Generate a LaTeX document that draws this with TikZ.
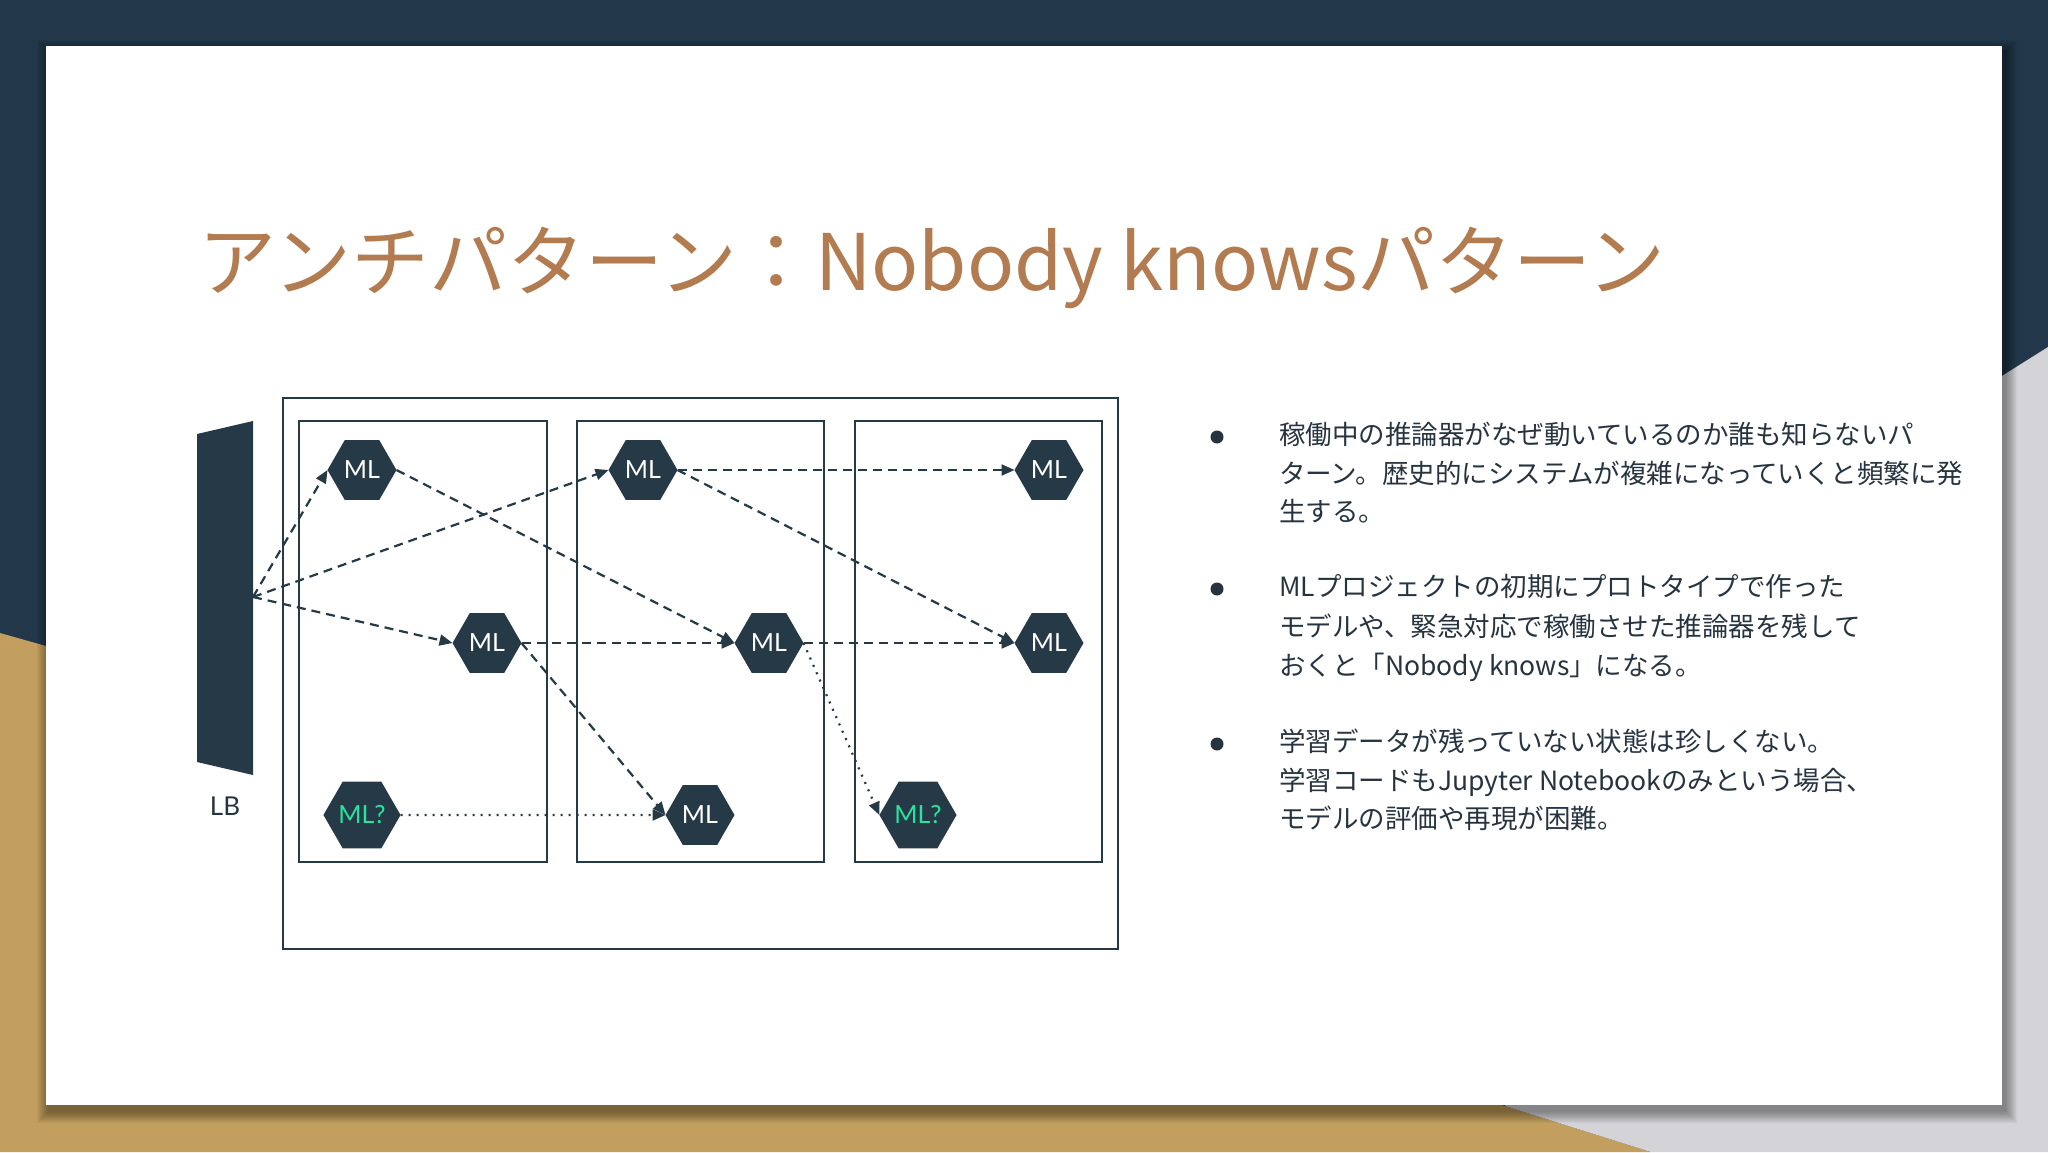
\documentclass[tikz,border=0pt]{standalone}
\usepackage{fontspec}
\setmainfont{Noto Sans CJK JP}
\newfontfamily\jpfont{Noto Sans CJK JP}
\newfontfamily\latfont{Lato}
\usetikzlibrary{shapes.geometric,arrows.meta}
\definecolor{bgnavy}{HTML}{22384A}
\definecolor{bggold}{HTML}{C29F5E}
\definecolor{bggray}{HTML}{D4D3D7}
\definecolor{titlec}{HTML}{B27B50}
\definecolor{hexc}{HTML}{253A46}
\definecolor{linec}{HTML}{263A45}
\definecolor{textc}{HTML}{27343F}
\definecolor{mlgreen}{HTML}{2BE39F}
\tikzset{
  hexa/.style={regular polygon, regular polygon sides=6, fill=hexc, minimum size=69pt,
    inner sep=0pt, outer sep=0pt, text=white, font=\latfont\fontsize{25}{25}\selectfont},
  unknown/.style={hexa, text=mlgreen},
  flow/.style={draw=linec, line width=2.2pt, dash pattern=on 9pt off 6pt,
    -{Triangle[length=13pt,width=11pt]}},
  dotflow/.style={draw=linec, line width=2.2pt, dash pattern=on 2pt off 6pt,
    -{Triangle[length=13pt,width=11pt]}},
  frame/.style={draw=linec, line width=2pt},
  bodytext/.style={anchor=base west, inner sep=0pt, text=textc, font=\jpfont\fontsize{26.5}{26.5}\selectfont},
  bulletdot/.style={circle, fill=textc, minimum size=13pt, inner sep=0pt}
}
\begin{document}
\begin{tikzpicture}[x=1pt,y=-1pt]
\useasboundingbox (0,0) rectangle (2048,1152);
% background
\fill[bgnavy] (0,0) rectangle (2048,1152);
\fill[bggold] (0,633) -- (46,646) -- (1200,1010) -- (1651,1152) -- (0,1152) -- cycle;
\fill[bggray] (2048,347) -- (1800,503) -- (1505,1106) -- (1651,1152) -- (2048,1152) -- cycle;
% card shadow
\foreach \i in {1,...,12}{
  \fill[black,opacity=0.035] (46-\i+3,46-\i+6) rectangle (2002+\i+3,1105+\i+6);
}
\fill[white] (46,46) rectangle (2002,1105);
% title
\node[anchor=base west, inner sep=0pt, text=titlec, font=\jpfont\fontsize{78}{78}\selectfont]
  (title) at (198,290) {アンチパターン：Nobody knowsパターン};
% frames
\draw[frame] (283,398) rectangle (1118,949);
\draw[frame] (299,421) rectangle (547,862);
\draw[frame] (577,421) rectangle (824,862);
\draw[frame] (855,421) rectangle (1102,862);
% load balancer
\fill[hexc] (197,434) -- (253,421) -- (253,775) -- (197,762) -- cycle;
\coordinate (lb) at (253,597);
\node[text=textc, font=\latfont\fontsize{26}{26}\selectfont] (lblabel) at (225,806) {LB};
% models
\node[hexa] (a1) at (362,470) {ML};
\node[hexa] (a2) at (487,643) {ML};
\node[unknown] (a3) at (362,815) {ML?};
\node[hexa] (b1) at (643,470) {ML};
\node[hexa] (b2) at (769,643) {ML};
\node[hexa] (b3) at (700,815) {ML};
\node[hexa] (c1) at (1049,470) {ML};
\node[hexa] (c2) at (1049,643) {ML};
\node[unknown] (c3) at (918,815) {ML?};
% connectors
\draw[flow] (lb) -- (a1.west);
\draw[flow] (lb) -- (b1.west);
\draw[flow] (lb) -- (a2.west);
\draw[flow] (a1.east) -- (b2.west);
\draw[flow] (a2.east) -- (b2.west);
\draw[flow] (a2.east) -- (b3.west);
\draw[flow] (b1.east) -- (c1.west);
\draw[flow] (b1.east) -- (c2.west);
\draw[flow] (b2.east) -- (c2.west);
\draw[dotflow] (b2.east) -- (c3.west);
\draw[dotflow] (a3.east) -- (b3.west);
% bullets
\node[bulletdot] (d1) at (1217,437) {};
\node[bulletdot] (d2) at (1217,589) {};
\node[bulletdot] (d3) at (1217,744) {};
\node[bodytext] (t11) at (1279,444) {稼働中の推論器がなぜ動いているのか誰も知らないパ};
\node[bodytext] (t12) at (1279,483) {ターン。歴史的にシステムが複雑になっていくと頻繁に発};
\node[bodytext] (t13) at (1279,521) {生する。};
\node[bodytext] (t21) at (1279,596) {MLプロジェクトの初期にプロトタイプで作った};
\node[bodytext] (t22) at (1279,636) {モデルや、緊急対応で稼働させた推論器を残して};
\node[bodytext] (t23) at (1279,675) {おくと「Nobody knows」になる。};
\node[bodytext] (t31) at (1279,751) {学習データが残っていない状態は珍しくない。};
\node[bodytext] (t32) at (1279,790) {学習コードもJupyter Notebookのみという場合、};
\node[bodytext] (t33) at (1279,828) {モデルの評価や再現が困難。};
\end{tikzpicture}
\end{document}
